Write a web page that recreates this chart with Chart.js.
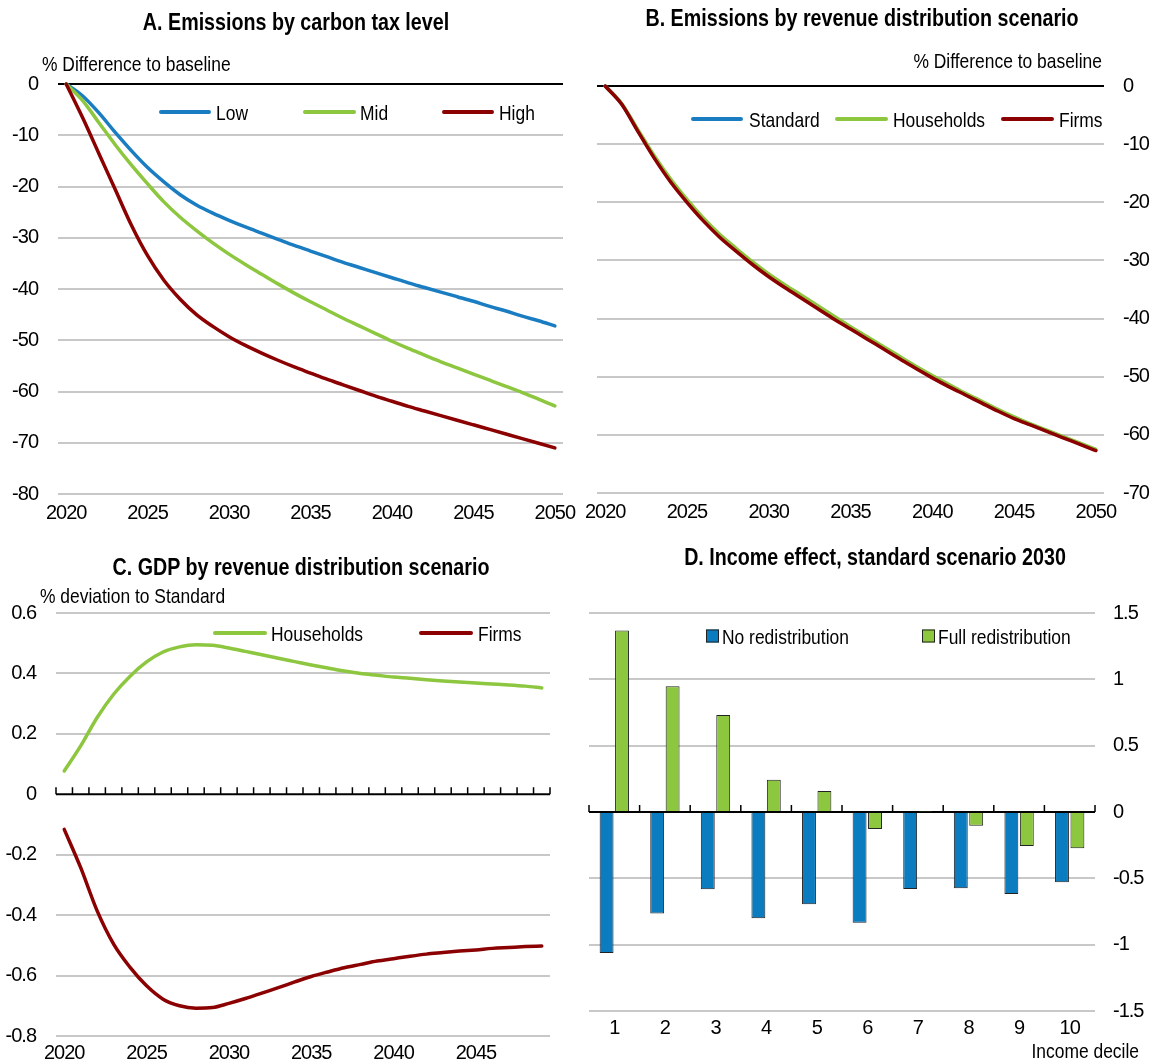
<!DOCTYPE html>
<html><head><meta charset="utf-8">
<script src="https://cdn.jsdelivr.net/npm/chart.js@4.4.1/dist/chart.umd.min.js"></script>
<style>
html,body{margin:0;padding:0;background:#fff;}
body{width:1152px;height:1059px;overflow:hidden;position:relative;font-family:"Liberation Sans","Arial",sans-serif;}
canvas{position:absolute;left:0;top:0;}
.t{position:absolute;white-space:nowrap;color:#000;font-size:21px;line-height:1;transform-origin:left center;transform:translateY(-50%) scaleX(0.83);}
.title{font-weight:bold;font-size:24px;transform-origin:center center;transform:translate(-50%,-50%) scaleX(0.82);}
.r{transform-origin:right center;transform:translate(-100%,-50%) scaleX(0.83);}
.ln{position:absolute;height:4px;border-radius:2px;transform:translateY(-50%);}
.sq{position:absolute;width:11px;height:11px;border:1px solid #222;transform:translateY(-50%);}
</style>
</head><body>
<div style="position:absolute;left:0;top:0;width:600px;height:530px"><canvas id="cA"></canvas></div>
<div style="position:absolute;left:560px;top:0;width:592px;height:530px"><canvas id="cB"></canvas></div>
<div style="position:absolute;left:0;top:530px;width:576px;height:550px"><canvas id="cC"></canvas></div>
<div style="position:absolute;left:576px;top:530px;width:576px;height:529px"><canvas id="cD"></canvas></div>
<script>
// ---------- DATA ----------
const yearsAB = ['2020','2021','2022','2023','2024','2025','2026','2027','2028','2029','2030','2031','2032','2033','2034','2035','2036','2037','2038','2039','2040','2041','2042','2043','2044','2045','2046','2047','2048','2049','2050'];
const lowTax  = [0,-2.3,-5.6,-9.4,-13.0,-16.3,-19.1,-21.6,-23.6,-25.2,-26.6,-27.9,-29.1,-30.3,-31.5,-32.6,-33.7,-34.8,-35.8,-36.8,-37.8,-38.8,-39.7,-40.6,-41.5,-42.4,-43.4,-44.3,-45.3,-46.2,-47.2];
const midTax  = [0,-3.2,-7.5,-11.8,-15.8,-19.5,-23.0,-26.0,-28.6,-31.0,-33.2,-35.2,-37.1,-39.0,-40.8,-42.5,-44.1,-45.7,-47.2,-48.7,-50.2,-51.6,-52.9,-54.2,-55.4,-56.6,-57.8,-59.0,-60.2,-61.5,-62.8];
const highTax = [0,-6.5,-13.5,-20.5,-27.5,-33.5,-38.3,-42.0,-45.0,-47.3,-49.3,-51.0,-52.5,-53.9,-55.2,-56.4,-57.6,-58.7,-59.8,-60.9,-61.9,-62.9,-63.8,-64.7,-65.6,-66.5,-67.4,-68.3,-69.2,-70.1,-71.0];

const standardB   = [0,-3.05,-7.65,-12.2,-16.25,-19.75,-22.95,-25.75,-28.15,-30.45,-32.55,-34.45,-36.25,-38.05,-39.85,-41.6,-43.3,-45.0,-46.7,-48.4,-50.0,-51.5,-52.95,-54.35,-55.75,-57.05,-58.2,-59.3,-60.4,-61.5,-62.6];
const householdsB = [0,-3.0,-7.5,-12.0,-16.0,-19.5,-22.7,-25.5,-27.9,-30.2,-32.3,-34.2,-36.0,-37.8,-39.6,-41.4,-43.1,-44.8,-46.5,-48.2,-49.8,-51.3,-52.8,-54.2,-55.6,-56.9,-58.1,-59.2,-60.3,-61.4,-62.5];
const firmsB      = [0,-3.1,-7.8,-12.4,-16.5,-20.0,-23.2,-26.0,-28.4,-30.7,-32.8,-34.7,-36.5,-38.3,-40.1,-41.8,-43.5,-45.2,-46.9,-48.6,-50.2,-51.7,-53.1,-54.5,-55.9,-57.2,-58.3,-59.4,-60.5,-61.6,-62.7];

const yearsC = ['2020','2021','2022','2023','2024','2025','2026','2027','2028','2029','2030','2031','2032','2033','2034','2035','2036','2037','2038','2039','2040','2041','2042','2043','2044','2045','2046','2047','2048','2049'];
const householdsC = [0.077,0.16,0.254,0.331,0.391,0.438,0.471,0.488,0.495,0.493,0.484,0.473,0.462,0.45,0.439,0.428,0.418,0.408,0.4,0.394,0.388,0.384,0.379,0.375,0.372,0.368,0.365,0.362,0.358,0.352];
const firmsC      = [-0.116,-0.243,-0.386,-0.496,-0.573,-0.634,-0.678,-0.700,-0.708,-0.706,-0.692,-0.676,-0.658,-0.640,-0.621,-0.603,-0.588,-0.574,-0.563,-0.552,-0.544,-0.536,-0.529,-0.524,-0.519,-0.515,-0.510,-0.507,-0.504,-0.502];

const deciles    = ['1','2','3','4','5','6','7','8','9','10'];
const noRedist   = [-1.063,-0.766,-0.583,-0.80,-0.696,-0.834,-0.58,-0.575,-0.618,-0.53];
const fullRedist = [1.369,0.947,0.731,0.244,0.158,-0.128,0.003,-0.103,-0.256,-0.274];

// ---------- STYLE ----------
const BLUE='#1b7dc1', GREEN='#8dc63f', RED='#8b0000', BARBLUE='#0b7cc0', GRID='#c8c8c8';
Chart.defaults.font.family='"Liberation Sans","Arial",sans-serif';
Chart.defaults.font.size=20;
Chart.defaults.color='#000';
Chart.defaults.animation=false;
Chart.defaults.responsive=false;
Chart.defaults.maintainAspectRatio=false;

const fmt = v => { const r=Math.round(v*100)/100; return (Math.abs(r)<1e-9?0:r).toString(); };

// narrower tick text (reference uses a condensed face)
const tight = {
  id:'tight',
  beforeLayout(chart){ chart.ctx.letterSpacing='-1px'; },
  beforeDraw(chart){ chart.ctx.letterSpacing='-1px'; }
};

const zeroAxis = {
  id:'zeroAxis',
  beforeDatasetsDraw(chart){
    const {ctx, chartArea:{left,right}, scales:{x,y}} = chart;
    const y0 = y.getPixelForValue(0);
    ctx.save(); ctx.strokeStyle='#000';
    ctx.lineWidth=2; ctx.beginPath(); ctx.moveTo(left,y0); ctx.lineTo(right,y0); ctx.stroke();
    ctx.lineWidth=1.5; ctx.beginPath();
    const n=x.getLabels().length;
    for(let i=0;i<=n;i++){ const px=x.getPixelForValue(i-0.5); ctx.moveTo(px,y0); ctx.lineTo(px,y0-7); }
    ctx.stroke(); ctx.restore();
  }
};

function lineDs(label,data,color,order){
  return {label,data,order,borderColor:color,backgroundColor:color,borderWidth:3.5,pointRadius:0,tension:0.35,cubicInterpolationMode:'monotone',clip:false,borderCapStyle:'round'};
}
function xScale(height,padding){
  return {type:'category',offset:true,grid:{display:false,drawTicks:false},border:{display:false},
    ticks:{autoSkip:false,maxRotation:0,padding,callback:function(v){const l=this.getLabelForValue(v);return (+l)%5===0?l:'';}},
    afterFit(s){s.height=height;}};
}
function yScale(pos,width,min,max,step,padding,zeroBlack){
  return {position:pos,min,max,border:{display:false},
    grid:{drawTicks:false,lineWidth:2,color:c=>(Math.abs(c.tick.value)<1e-9?(zeroBlack?'#000':'rgba(0,0,0,0)'):GRID)},
    ticks:{stepSize:step,padding,callback:v=>fmt(v)},
    afterFit(s){s.width=width;}};
}
function sz(id,w,h){const c=document.getElementById(id);c.width=w;c.height=h;c.style.width=w+'px';c.style.height=h+'px';return c;}
const noPlug={legend:{display:false},tooltip:{enabled:false}};

// A  (plot area 58..563 x 84..494)
new Chart(sz('cA',600,530),{type:'line',
  data:{labels:yearsAB,datasets:[lineDs('Low',lowTax,BLUE,2),lineDs('Mid',midTax,GREEN,1),lineDs('High',highTax,RED,0)]},
  options:{layout:{padding:{top:84,right:37,left:0,bottom:0}},plugins:noPlug,
    scales:{x:xScale(36,7),y:yScale('left',58,-80,0,10,20,true)}},
  plugins:[tight]});
// B  (plot area 597..1104 x 86..493)
new Chart(sz('cB',592,530),{type:'line',
  data:{labels:yearsAB,datasets:[lineDs('Standard',standardB,BLUE,2),lineDs('Households',householdsB,GREEN,1),lineDs('Firms',firmsB,RED,0)]},
  options:{layout:{padding:{top:86,right:0,left:37,bottom:0}},plugins:noPlug,
    scales:{x:xScale(37,7),y:yScale('right',48,-70,0,10,19,true)}},
  plugins:[tight]});
// C  (plot area 56..550 x 613..1036), canvas runs past the page bottom so the year labels are cut like the reference
new Chart(sz('cC',576,550),{type:'line',
  data:{labels:yearsC,datasets:[lineDs('Households',householdsC,GREEN,1),lineDs('Firms',firmsC,RED,0)]},
  options:{layout:{padding:{top:83,right:26,left:0,bottom:0}},plugins:noPlug,
    scales:{x:xScale(44,5),y:yScale('left',56,-0.8,0.6,0.2,20,false)}},
  plugins:[zeroAxis,tight]});
// D  (plot area 589..1095 x 613..1011)
new Chart(sz('cD',576,529),{type:'bar',
  data:{labels:deciles,datasets:[
    {label:'No redistribution',data:noRedist,backgroundColor:BARBLUE,borderColor:'#222',borderWidth:1,categoryPercentage:0.61,barPercentage:0.9},
    {label:'Full redistribution',data:fullRedist,backgroundColor:GREEN,borderColor:'#222',borderWidth:1,categoryPercentage:0.61,barPercentage:0.9}]},
  options:{layout:{padding:{top:83,right:0,left:13,bottom:0}},plugins:noPlug,
    scales:{x:{type:'category',offset:true,grid:{display:false,drawTicks:false},border:{display:false},ticks:{padding:5,maxRotation:0},afterFit(s){s.height=48;}},
            y:yScale('right',57,-1.5,1.5,0.5,18,false)}},
  plugins:[zeroAxis,tight]});

// ---------- TEXT OVERLAYS ----------
function txt(cls,x,y,s){const d=document.createElement('div');d.className='t '+cls;d.style.left=x+'px';d.style.top=y+'px';d.textContent=s;document.body.appendChild(d);return d;}
function lineKey(x1,x2,y,color){const d=document.createElement('div');d.className='ln';d.style.left=x1+'px';d.style.width=(x2-x1)+'px';d.style.top=y+'px';d.style.background=color;document.body.appendChild(d);}
function sqKey(x,y,color){const d=document.createElement('div');d.className='sq';d.style.left=x+'px';d.style.top=y+'px';d.style.background=color;document.body.appendChild(d);}

txt('title',296,22,'A. Emissions by carbon tax level');
txt('title',862,18,'B. Emissions by revenue distribution scenario');
txt('title',301,567,'C. GDP by revenue distribution scenario');
txt('title',875,557,'D. Income effect, standard scenario 2030');

txt('',42,63,'% Difference to baseline');
txt('r',1102,60,'% Difference to baseline');
txt('',40,595,'% deviation to Standard');
txt('r',1139,1050,'Income decile');

lineKey(159,211,112,BLUE); txt('',216,112,'Low');
lineKey(303,356,112,GREEN); txt('',360,112,'Mid');
lineKey(442,494,112,RED); txt('',499,112,'High');

lineKey(691,743,119,BLUE); txt('',749,119,'Standard');
lineKey(835,888,119,GREEN); txt('',893,119,'Households');
lineKey(1001,1054,119,RED); txt('',1059,119,'Firms');

lineKey(213,267,633,GREEN); txt('',271,633,'Households');
lineKey(419,473,633,RED); txt('',478,633,'Firms');

sqKey(706,636,BARBLUE); txt('',722,636,'No redistribution');
sqKey(922,636,GREEN); txt('',938,636,'Full redistribution');
</script>
</body></html>
